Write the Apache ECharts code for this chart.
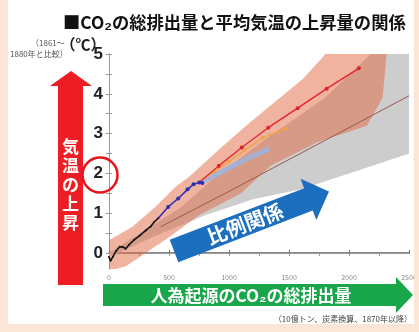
<!DOCTYPE html>
<html>
<head>
<meta charset="utf-8">
<script src="https://cdn.jsdelivr.net/npm/echarts@6/dist/echarts.min.js"></script>
<style>
html, body { margin: 0; padding: 0; background: #fff; }
#main { width: 419px; height: 332px; }
</style>
</head>
<body>
<div id="main"></div>
<script>
// axis labels / ticks
var xLabels = [0, 500, 1000, 1500, 2000, 2500];
var xTickTop = [250, 500, 750, 1000, 1250, 1500, 1750, 2000, 2250];
var yLabels = [0, 1, 2, 3, 4, 5];
var yTicks = [0, 0.5, 1, 1.5, 2, 2.5, 3, 3.5, 4, 4.5, 5];

// observed (black) 1870-2010
var histLine = [[0, -0.1], [14, -0.19], [33, -0.09], [61, 0.06], [89, 0.16], [117, 0.15], [139, 0.11],
  [167, 0.21], [209, 0.33], [256, 0.44], [306, 0.57], [348, 0.67], [376, 0.78], [412, 0.88]];
// scenario lines
var blueLine = [[412, 0.88], [493, 1.16], [577, 1.37], [655, 1.6], [705, 1.73], [752, 1.77], [778, 1.76]];
var redLine = [[760, 1.8], [914, 2.19], [1106, 2.65], [1327, 3.15], [1572, 3.64], [1814, 4.13], [2082, 4.64]];
var orangeLine = [[760, 1.8], [880, 2.05], [1000, 2.3], [1130, 2.58], [1282, 2.9], [1480, 3.13]];
var lightBlueLine = [[780, 1.8], [900, 1.98], [1050, 2.22], [1200, 2.44], [1340, 2.62]];
var trendLine = [[430, 0.66], [1000, 1.55], [1500, 2.35], [2000, 3.15], [2500, 3.95]];

// plumes
var redUpper = [[0, 0.32], [195, 0.66], [390, 1.17], [557, 1.67], [668, 1.92], [947, 2.68], [1169, 3.27],
  [1392, 3.82], [1615, 4.37], [1790, 4.95], [1850, 5.2]];
var redLower = [[0, -0.45], [140, -0.33], [280, -0.05], [500, 0.4], [750, 0.95], [1100, 1.5], [1350, 2.2],
  [1750, 2.8], [2150, 3.2], [2280, 3.9], [2320, 5.2]];
var grayUpper = [[0, 0], [600, 1.15], [900, 1.95], [1300, 2.85], [1800, 3.9], [2250, 5.2], [2550, 5.2]];
var grayLower = [[0, -0.1], [400, 0.45], [800, 0.95], [1200, 1.35], [1600, 1.6], [2000, 2.0], [2550, 2.55]];

var FONT = '"Noto Sans CJK JP", sans-serif';

function band(upper, lower, color, opacity, z) {
  var pts = upper.concat(lower.slice().reverse());
  return {
    type: 'custom', clip: true, silent: true, z: z,
    data: [0],
    renderItem: function (params, api) {
      return {
        type: 'polygon',
        shape: { points: pts.map(function (p) { return api.coord(p); }) },
        style: { fill: color, opacity: opacity }
      };
    }
  };
}

function marked(arr, size) {
  return arr.map(function (p, i) { return { value: p, symbolSize: i === 0 ? 0 : size }; });
}

var chart = echarts.init(document.getElementById('main'), null, { renderer: 'canvas' });

var option = {
  animation: false,
  backgroundColor: '#fff',
  grid: { left: 109, right: 10, top: 54, bottom: 63, outerBoundsMode: 'none', containLabel: false },
  xAxis: [
    {
      type: 'value', min: 0, max: 2500, position: 'bottom',
      axisLine: { show: true, lineStyle: { color: '#666', width: 1.5 } },
      axisTick: { show: true, inside: true, length: 3, lineStyle: { color: '#666' }, customValues: xLabels },
      axisLabel: { customValues: xLabels, color: '#888', fontSize: 7, margin: 5, fontFamily: FONT,
        formatter: function (v) { return String(v); } },
      splitLine: { show: false }
    },
    {
      type: 'value', min: 0, max: 2500, position: 'top',
      axisLine: { show: true, lineStyle: { color: '#999' } },
      axisTick: { show: true, inside: true, length: 3, lineStyle: { color: '#999' }, customValues: xTickTop },
      axisLabel: { show: false },
      splitLine: { show: false }
    }
  ],
  yAxis: [
    {
      type: 'value', min: -0.4, max: 5, position: 'left',
      axisLine: { show: true, lineStyle: { color: '#999' } },
      axisTick: { show: true, inside: true, length: 3, lineStyle: { color: '#999' }, customValues: yTicks },
      axisLabel: { customValues: yLabels, color: '#222', fontSize: 17, fontWeight: 'bold', margin: 6,
        fontFamily: '"Liberation Sans", Arial, sans-serif' },
      splitLine: { show: false }
    },
    {
      type: 'value', min: -0.4, max: 5, position: 'right',
      axisLine: { show: true, lineStyle: { color: '#999' } },
      axisTick: { show: true, inside: true, length: 3, lineStyle: { color: '#999' }, customValues: yTicks },
      axisLabel: { show: false },
      splitLine: { show: false }
    }
  ],
  series: [
    band(grayUpper, grayLower, '#cdcdcd', 1, 1),
    band(redUpper, redLower, '#e0683f', 0.5, 2),
    {
      type: 'line', data: trendLine, z: 3, symbol: 'none', silent: true,
      lineStyle: { color: '#9a5a48', width: 1 }
    },
    {
      type: 'line', data: lightBlueLine, z: 4, symbol: 'none', silent: true,
      lineStyle: { color: '#9fb3da', width: 5, opacity: 0.9 }
    },
    {
      type: 'line', data: marked(orangeLine, 3), z: 5, symbol: 'rect', silent: true,
      itemStyle: { color: '#f4a338' }, lineStyle: { color: '#f4a338', width: 1.3 }
    },
    {
      type: 'line', data: marked(redLine, 4), z: 6, symbol: 'circle', silent: true,
      itemStyle: { color: '#e0202a' }, lineStyle: { color: '#e8242c', width: 1.3 }
    },
    {
      type: 'line', data: histLine, z: 7, symbol: 'circle', symbolSize: 2, silent: true,
      itemStyle: { color: '#111' }, lineStyle: { color: '#111', width: 1.6 }
    },
    {
      type: 'line', data: marked(blueLine, 4), z: 8, symbol: 'circle', silent: true,
      itemStyle: { color: '#2b2fb0' }, lineStyle: { color: '#2b2fb0', width: 1.5 }
    }
  ],
  graphic: [
    // title and y-unit
    { type: 'text', z: 100, x: 63, y: 22,
      style: { text: '■CO₂の総排出量と平均気温の上昇量の関係', font: 'bold 17.3px ' + FONT, fill: '#111',
        align: 'left', verticalAlign: 'middle', textAlign: 'left', textVerticalAlign: 'middle' } },
    { type: 'text', z: 100, x: 83, y: 44,
      style: { text: '（℃）', font: 'bold 15px ' + FONT, fill: '#222',
        align: 'center', verticalAlign: 'middle', textAlign: 'center', textVerticalAlign: 'middle' } },
    { type: 'text', z: 100, x: 31, y: 43,
      style: { text: '（1861～', font: '8px ' + FONT, fill: '#555',
        align: 'left', verticalAlign: 'middle', textAlign: 'left', textVerticalAlign: 'middle' } },
    { type: 'text', z: 100, x: 10, y: 54,
      style: { text: '1880年と比較）', font: '8px ' + FONT, fill: '#555',
        align: 'left', verticalAlign: 'middle', textAlign: 'left', textVerticalAlign: 'middle' } },
    // red arrow
    { type: 'polygon', z: 100,
      shape: { points: [[58, 285], [58, 86], [50, 86], [71, 71], [92, 86], [83, 86], [83, 285]] },
      style: { fill: '#ee1c25' } },
    { type: 'text', z: 101, x: 70.5, y: 185,
      style: { text: '気\n温\nの\n上\n昇', font: 'bold 17px ' + FONT, fill: '#fff', lineHeight: 19,
        align: 'center', verticalAlign: 'middle', textAlign: 'center', textVerticalAlign: 'middle' } },
    { type: 'circle', z: 101, shape: { cx: 100, cy: 175, r: 17.5 },
      style: { fill: 'none', stroke: '#e8141b', lineWidth: 2.5 } },
    // blue arrow
    { type: 'group', z: 100, x: 174, y: 251, rotation: 21 * Math.PI / 180,
      children: [
        { type: 'polygon', z: 100,
          shape: { points: [[0, -12], [144, -12], [144, -22], [166, 0], [144, 22], [144, 12], [0, 12]] },
          style: { fill: '#1c6fbf' } },
        { type: 'text', z: 101, x: 76, y: 0,
          style: { text: '比例関係', font: 'bold 20px ' + FONT, fill: '#fff',
            align: 'center', verticalAlign: 'middle', textAlign: 'center', textVerticalAlign: 'middle' } }
      ] },
    // green arrow
    { type: 'polygon', z: 100,
      shape: { points: [[103, 284], [396, 284], [396, 277], [413, 295], [396, 313], [396, 306], [103, 306]] },
      style: { fill: '#19a64a' } },
    { type: 'text', z: 101, x: 251, y: 296,
      style: { text: '人為起源のCO₂の総排出量', font: 'bold 17px ' + FONT, fill: '#fff',
        align: 'center', verticalAlign: 'middle', textAlign: 'center', textVerticalAlign: 'middle' } },
    { type: 'text', z: 100, x: 412, y: 319,
      style: { text: '（10億トン、炭素換算、1870年以降）', font: '8px ' + FONT, fill: '#444',
        align: 'right', verticalAlign: 'middle', textAlign: 'right', textVerticalAlign: 'middle' } },
    // peach frame
    { type: 'rect', z: 200, shape: { x: 0, y: 0, width: 8, height: 332 }, style: { fill: '#fbe5d6' } },
    { type: 'rect', z: 200, shape: { x: 414, y: 0, width: 5, height: 332 }, style: { fill: '#fbe5d6' } },
    { type: 'rect', z: 200, shape: { x: 0, y: 324, width: 419, height: 8 }, style: { fill: '#fbe5d6' } }
  ]
};

chart.setOption(option);
</script>
</body>
</html>
